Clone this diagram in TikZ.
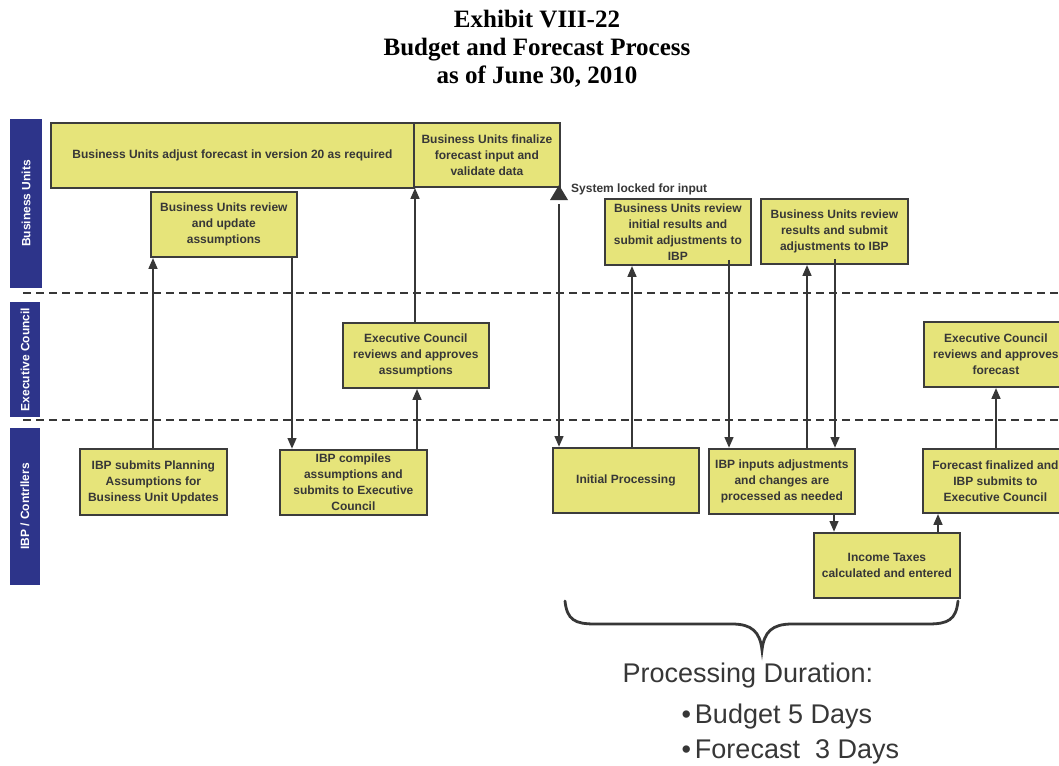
\documentclass[tikz,border=0pt]{standalone}
\usepackage{fontspec}
\setmainfont{Liberation Sans}
\newfontfamily\titlefont{Liberation Serif}
\usetikzlibrary{arrows.meta,calc}

\definecolor{boxfill}{RGB}{230,228,122}
\definecolor{boxline}{RGB}{60,60,60}
\definecolor{lanefill}{RGB}{45,52,138}
\definecolor{ink}{RGB}{55,55,55}

\begin{document}
\begin{tikzpicture}[x=1pt,y=-1pt,
  box/.style={draw=boxline, line width=1.8pt, fill=boxfill, text=ink,
    font=\bfseries\fontsize{12}{16}\selectfont, align=center,
    anchor=north west, inner sep=1pt},
  lane/.style={fill=lanefill, text=white, rotate=90, inner sep=0pt,
    font=\bfseries\fontsize{12}{14}\selectfont},
  sep/.style={draw=ink, dash pattern=on 8pt off 5pt, line width=1.8pt},
  arr/.style={draw=ink, line width=2.6pt, -{Triangle[length=11pt,width=8.5pt]}},
  brace/.style={draw=ink, line width=2.8pt, line cap=round},
  title/.style={anchor=base, font=\titlefont\bfseries\fontsize{25}{28}\selectfont},
  bigtext/.style={anchor=base west, text=ink, font=\fontsize{27}{32}\selectfont}
]
\useasboundingbox (0,0) rectangle (1059,765);
\fill[white] (0,0) rectangle (1059,765);

% heading
\node[title] (t1) at (537,28) {Exhibit VIII-22};
\node[title] (t2) at (537,56) {Budget and Forecast Process};
\node[title] (t3) at (537,84) {as of June 30, 2010};

% swim lanes
\node[lane, minimum width=169pt, minimum height=32pt] (laneBU) at (26,203.5) {Business Units};
\node[lane, minimum width=115pt, minimum height=30pt] (laneEC) at (25,359.5) {Executive Council};
\node[lane, minimum width=157pt, minimum height=30pt] (laneIBP) at (25,506.5) {IBP / Contrllers};

\coordinate (s1a) at (23,293);  \coordinate (s1b) at (1059,293);
\coordinate (s2a) at (23,420);  \coordinate (s2b) at (1059,420);
\draw[sep] (s1a) -- (s1b);
\draw[sep] (s2a) -- (s2b);

% Business Units lane
\node[box, minimum width=363pt, minimum height=65pt] (bu1) at (50,122)
  {Business Units adjust forecast in version 20 as required};
\node[box, minimum width=146pt, minimum height=64pt] (bu2) at (413,122)
  {Business Units finalize\\forecast input and\\validate data};
\node[box, minimum width=146pt, minimum height=65pt] (bu3) at (150,191)
  {Business Units review\\and update\\assumptions};
\node[box, minimum width=146pt, minimum height=66pt] (bu4) at (604,198)
  {Business Units review\\initial results and\\submit adjustments to\\IBP};
\node[box, minimum width=147pt, minimum height=65pt] (bu5) at (760,198)
  {Business Units review\\results and submit\\adjustments to IBP};

% Executive Council lane
\node[box, minimum width=146pt, minimum height=65pt] (ec1) at (342,322)
  {Executive Council\\reviews and approves\\assumptions};
\node[box, minimum width=144pt, minimum height=65pt] (ec2) at (923,321)
  {Executive Council\\reviews and approves\\forecast};

% IBP / Controllers lane
\node[box, minimum width=147pt, minimum height=66pt] (ibp1) at (79,448)
  {IBP submits Planning\\Assumptions for\\Business Unit Updates};
\node[box, minimum width=147pt, minimum height=65pt] (ibp2) at (279,449)
  {IBP compiles\\assumptions and\\submits to Executive\\Council};
\node[box, minimum width=146pt, minimum height=65pt] (ibp3) at (552,447)
  {Initial Processing};
\node[box, minimum width=146pt, minimum height=65pt] (ibp4) at (708,448)
  {IBP inputs adjustments\\and changes are\\processed as needed};
\node[box, minimum width=145pt, minimum height=64pt] (ibp5) at (922,448)
  {Forecast finalized and\\IBP submits to\\Executive Council};
\node[box, minimum width=146pt, minimum height=65pt] (ibp6) at (813,532)
  {Income Taxes\\calculated and entered};

% lock marker
\fill[ink] (550,200) -- (559,185) -- (568,200) -- cycle;
\coordinate (lock) at (559,204);
\node[anchor=west, text=ink, font=\bfseries\fontsize{12}{14}\selectfont, inner sep=0pt]
  (locklbl) at (571,189) {System locked for input};

% flow
\draw[arr] (ibp1.north -| 153,0) -- (bu3.south -| 153,0);
\draw[arr] (bu3.south -| 292,0) -- (ibp2.north -| 292,0);
\draw[arr] (ibp2.north -| 417,0) -- (ec1.south -| 417,0);
\draw[arr] (ec1.north -| 415,0) -- (bu2.south -| 415,0);
\draw[arr] (lock) -- (ibp3.north -| lock);
\draw[arr] (ibp3.north -| 632,0) -- (bu4.south -| 632,0);
\draw[arr] ([yshift=6pt]bu4.south -| 729,0) -- (ibp4.north -| 729,0);
\draw[arr] (ibp4.north -| 807,0) -- (bu5.south -| 807,0);
\draw[arr] ([yshift=6pt]bu5.south -| 835,0) -- (ibp4.north -| 835,0);
\draw[arr] (ibp4.south -| 834,0) -- (ibp6.north -| 834,0);
\draw[arr] (ibp6.north -| 938,0) -- (ibp5.south -| 938,0);
\draw[arr] (ibp5.north -| 996,0) -- (ec2.south -| 996,0);

% processing span brace
\draw[brace] (565,601) .. controls (567,620) and (575,624) .. (595,624)
  -- (732,624) .. controls (752,624) and (760,632) .. (762,650)
  .. controls (764,632) and (772,624) .. (792,624)
  -- (928,624) .. controls (948,624) and (956,620) .. (958,601);

\node[bigtext] (dur) at (619,682) {Processing Duration:};
\node[bigtext] (dur1) at (678,723) {•\kern4pt Budget 5 Days};
\node[bigtext] (dur2) at (678,758) {•\kern4pt Forecast\ \ 3 Days};
\end{tikzpicture}
\end{document}
